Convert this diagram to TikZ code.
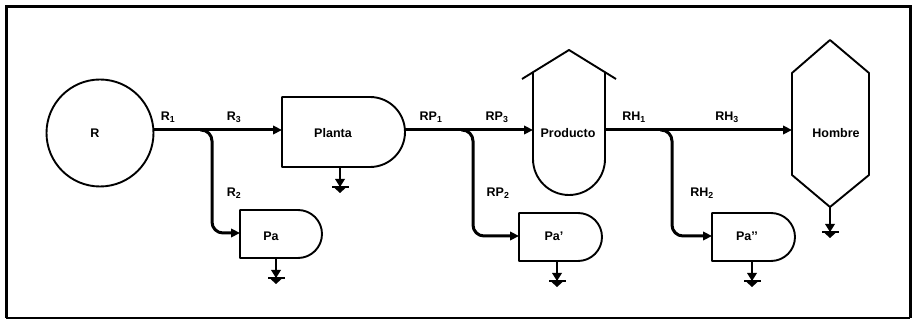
\documentclass[tikz,border=0pt]{standalone}
\usepackage{fontspec}
\setmainfont{Liberation Sans}
\usetikzlibrary{arrows.meta}
\newcommand\groundsym[3]{%
  \draw[line width=2.4pt] (#1,#2) -- (#1,#3-1);
  \fill (#1-5,#3-8) -- (#1+5,#3-8) -- (#1,#3) -- cycle;
  \fill (#1-8.5,#3-1.3) rectangle (#1+8.5,#3+1.3);
  \fill (#1-5.5,#3+1) -- (#1+5.5,#3+1) -- (#1,#3+6) -- cycle;}
\begin{document}
\begin{tikzpicture}[x=1pt,y=-1pt,
  shp/.style={line width=1.9pt, line join=round},
  conn/.style={line width=3pt, -{Triangle[length=9pt,width=8.5pt]}},
  branch/.style={line width=3pt, rounded corners=11pt, -{Triangle[length=9pt,width=8.5pt]}},
  lbl/.style={font=\fontsize{12.5}{14}\selectfont\bfseries, inner sep=0pt},
  txt/.style={font=\fontsize{12.5}{14}\selectfont\bfseries, inner sep=0pt}]
\useasboundingbox (0,0) rectangle (914,320);
% frame
\draw[line width=3pt] (6,318) -- (6,7) -- (910,7) -- (910,318);
\draw[line width=1.2pt] (6,318) -- (910,318);

% shapes
\draw[shp] (100,133) circle[radius=53.5];
\draw[shp] (370,97) -- (282,97) -- (282,167) -- (370,167) arc[start angle=90, end angle=-90, radius=35] -- cycle;
\draw[shp] (298,210) -- (240,210) -- (240,258) -- (298,258) arc[start angle=90, end angle=-90, radius=24] -- cycle;
\draw[shp] (578,213) -- (519,213) -- (519,261) -- (578,261) arc[start angle=90, end angle=-90, radius=24] -- cycle;
\draw[shp] (771,213) -- (712,213) -- (712,261) -- (771,261) arc[start angle=90, end angle=-90, radius=24] -- cycle;
\draw[shp] (533,72) -- (533,159) arc[start angle=180, end angle=0, radius=36] -- (605,72);
\draw[shp] (522,79) -- (569,50) -- (616,79);
\draw[shp] (830,40) -- (869,73) -- (869,175) -- (830,207) -- (792,175) -- (792,73) -- cycle;

% node texts
\node[txt] (R) at (95,133) {R};
\node[txt] (planta) at (333,133) {Planta};
\node[txt] (pa) at (271,236) {Pa};
\node[txt] (producto) at (568,133) {Producto};
\node[txt] (pa1) at (554,236) {Pa’};
\node[txt] (pa2) at (747,236) {Pa’’};
\node[txt] (hombre) at (836,133) {Hombre};

% connector end points
\coordinate (R-e) at (153.5,130);
\coordinate (planta-w) at (282,130);
\coordinate (planta-e) at (405,130);
\coordinate (producto-w) at (533,130);
\coordinate (producto-e) at (605,130);
\coordinate (hombre-w) at (792,130);
\coordinate (pa-w) at (240,233);
\coordinate (pa1-w) at (519,236);
\coordinate (pa2-w) at (712,236);
\coordinate (b1) at (200,130);
\coordinate (b2) at (461,130);
\coordinate (b3) at (660,130);

% connectors
\draw[conn] (R-e) -- (planta-w);
\draw[conn] (planta-e) -- (producto-w);
\draw[conn] (producto-e) -- (hombre-w);
\draw[branch] (b1) -- (212,130) -- (212,233) [sharp corners] -- (pa-w);
\draw[branch] (b2) -- (473,130) -- (473,236) [sharp corners] -- (pa1-w);
\draw[branch] (b3) -- (672,130) -- (672,236) [sharp corners] -- (pa2-w);

% grounds
\groundsym{340}{167}{187}
\groundsym{276}{258}{278}
\groundsym{557}{261}{281}
\groundsym{752}{261}{281}
\groundsym{830}{207}{232}

% labels
\node[lbl] (l1) at (168,117) {R\textsubscript{1}};
\node[lbl] (l2) at (234,117) {R\textsubscript{3}};
\node[lbl] (l3) at (431,117) {RP\textsubscript{1}};
\node[lbl] (l4) at (497,117) {RP\textsubscript{3}};
\node[lbl] (l5) at (634,117) {RH\textsubscript{1}};
\node[lbl] (l6) at (727,117) {RH\textsubscript{3}};
\node[lbl] (l7) at (234,193) {R\textsubscript{2}};
\node[lbl] (l8) at (498,193) {RP\textsubscript{2}};
\node[lbl] (l9) at (702,193) {RH\textsubscript{2}};
\end{tikzpicture}
\end{document}
